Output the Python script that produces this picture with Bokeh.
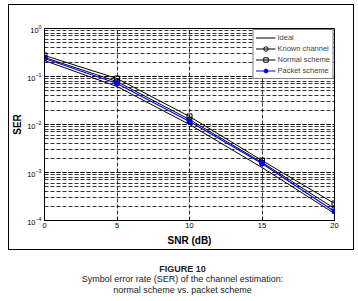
from bokeh.plotting import figure
from bokeh.layouts import column
from bokeh.models import Label, FixedTicker, Legend, LegendItem
from bokeh.embed import file_html
from bokeh.resources import INLINE

snr = [0, 5, 10, 15, 20]
ser_ideal = [0.215, 0.0619, 0.0100, 0.00127, 1.40e-4]
ser_known = [0.249, 0.0787, 0.0127, 0.00162, 1.78e-4]
ser_normal = [0.274, 0.0908, 0.0147, 0.00178, 2.26e-4]
ser_packet = [0.237, 0.0715, 0.01155, 0.00154, 1.54e-4]
x_ticks = [0, 5, 10, 15, 20]

FONT = "Liberation Sans"

p = figure(width=346, height=246, y_axis_type="log", x_range=(0, 20), y_range=(1e-4, 1),
           output_backend="svg", toolbar_location=None,
           min_border_left=35, min_border_right=21, min_border_top=23, min_border_bottom=31,
           margin=(4, 4, 0, 8), styles={"border": "1px solid black", "box-sizing": "border-box"})
p.background_fill_color = "white"
p.border_fill_color = "white"
p.outline_line_color = "black"
p.outline_line_width = 1

p.xaxis.ticker = FixedTicker(ticks=x_ticks)
p.yaxis.ticker.desired_num_ticks = 5
for ax in (p.xaxis[0], p.yaxis[0]):
    ax.axis_line_color = "black"
    ax.major_tick_in = 3
    ax.major_tick_out = 0
    ax.minor_tick_in = 0
    ax.minor_tick_out = 0
    ax.major_label_text_font = FONT
    ax.major_label_text_font_size = "7.5px"
    ax.major_label_text_color = "black"
    ax.axis_label_text_font = FONT
    ax.axis_label_text_font_size = "10px"
    ax.axis_label_text_font_style = "bold"
    ax.axis_label_text_color = "black"
p.xaxis.axis_label = "SNR (dB)"
p.yaxis.axis_label = "SER"
p.xaxis.major_label_standoff = 2
p.yaxis.major_label_standoff = 3
p.xaxis.axis_label_standoff = 4
p.yaxis.axis_label_standoff = 1

p.xgrid.grid_line_color = "black"
p.xgrid.grid_line_dash = "4 2"
p.xgrid.grid_line_width = 0.8
p.ygrid.grid_line_color = "black"
p.ygrid.grid_line_dash = "4 2"
p.ygrid.grid_line_width = 0.8
p.ygrid.minor_grid_line_color = "black"
p.ygrid.minor_grid_line_dash = "4 2"
p.ygrid.minor_grid_line_width = 0.8

r_ideal = p.line(snr, ser_ideal, line_color="black", line_width=1)
r_known_l = p.line(snr, ser_known, line_color="black", line_width=1)
r_known_m = p.scatter(snr, ser_known, marker="circle", size=5, line_color="black", fill_color=None)
r_norm_l = p.line(snr, ser_normal, line_color="black", line_width=1)
r_norm_m = p.scatter(snr, ser_normal, marker="square", size=5, line_color="black", fill_color=None)
r_pack_l = p.line(snr, ser_packet, line_color="#0000ff", line_width=1.2)
r_pack_m = p.scatter(snr, ser_packet, marker="asterisk", size=6, line_color="#0000ff", line_width=1.8)

legend = Legend(items=[
    LegendItem(label="Ideal", renderers=[r_ideal]),
    LegendItem(label="Known channel", renderers=[r_known_l, r_known_m]),
    LegendItem(label="Normal scheme", renderers=[r_norm_l, r_norm_m]),
    LegendItem(label="Packet scheme", renderers=[r_pack_l, r_pack_m]),
], location="top_right")
legend.label_text_font = FONT
legend.label_text_font_size = "7.5px"
legend.label_height = 11
legend.glyph_height = 11
legend.glyph_width = 20
legend.label_standoff = 2
legend.spacing = 0
legend.padding = 2
legend.margin = 1
legend.border_line_color = "black"
legend.border_line_width = 1
legend.background_fill_alpha = 1
p.add_layout(legend)

# caption panel below the framed plot
cap_fig = figure(width=358, height=51, output_backend="svg", toolbar_location=None,
                 x_axis_location=None, y_axis_location=None,
                 min_border=0, min_border_left=0, min_border_right=0,
                 min_border_top=0, min_border_bottom=0, x_range=(0, 1), y_range=(0, 1))
cap_fig.grid.visible = False
cap_fig.outline_line_color = None

cap = [("FIGURE 10", 18, "bold"),
       ("Symbol error rate (SER) of the channel estimation:", 28, "normal"),
       ("normal scheme vs. packet scheme", 39, "normal")]
for t, yy, st in cap:
    cap_fig.add_layout(Label(x=147, y=51 - yy, x_units="screen", y_units="screen", text=t,
                             text_align="center", text_baseline="middle", text_font=FONT,
                             text_font_size="9px", text_font_style=st, text_color="#222222"))

layout = column(p, cap_fig, spacing=0)
open("out.html", "w").write(file_html(layout, INLINE))
